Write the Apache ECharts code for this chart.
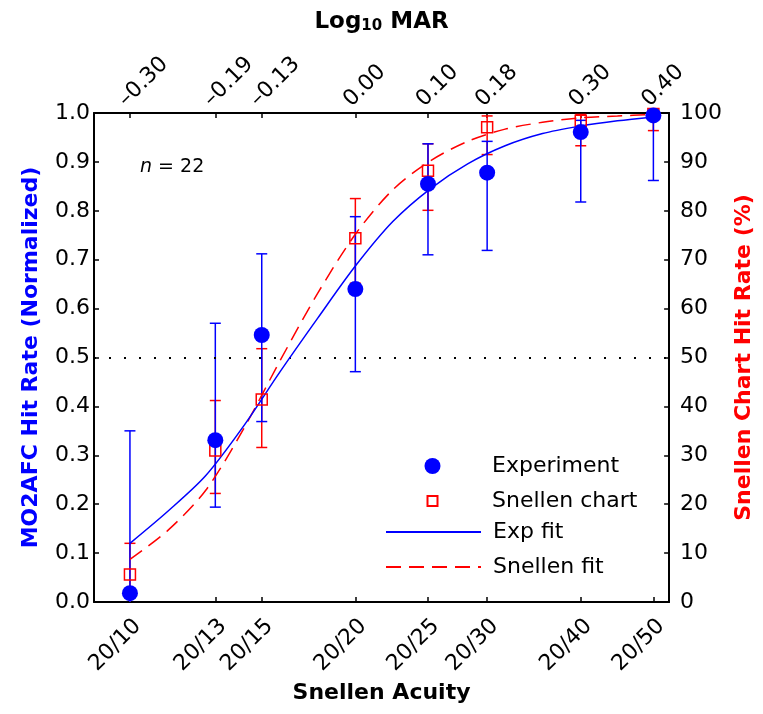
<!DOCTYPE html>
<html>
<head>
<meta charset="utf-8">
<script src="https://cdn.jsdelivr.net/npm/echarts@6/dist/echarts.min.js"></script>
<style>
html,body{margin:0;padding:0;background:#fff;}
#chart{width:763px;height:714px;}
</style>
</head>
<body>
<div id="chart"></div>
<script>
// ---- data ----
const snellenLabels = ['20/10','20/13','20/15','20/20','20/25','20/30','20/40','20/50'];
const logMarLabels  = ['\u20130.30','\u20130.19','\u20130.13','0.00','0.10','0.18','0.30','0.40'];
const xPos          = [-0.301,-0.187,-0.125,0,0.097,0.176,0.301,0.398];

const expHit   = [0.018, 0.331, 0.546, 0.640, 0.855, 0.878, 0.961, 0.995];
const expLow   = [-0.31, 0.194, 0.369, 0.471, 0.710, 0.719, 0.818, 0.862];
const expHigh  = [0.350, 0.570, 0.712, 0.788, 0.937, 0.942, 0.985, 1.000];

const snHit    = [0.056, 0.310, 0.414, 0.744, 0.882, 0.971, 0.984, 0.998];
const snLow    = [-0.01, 0.222, 0.316, 0.652, 0.801, 0.915, 0.933, 0.964];
const snHigh   = [0.120, 0.412, 0.518, 0.825, 0.937, 0.994, 0.997, 1.000];

const fitX     = [-0.301,-0.25,-0.20,-0.15,-0.10,-0.05,0.00,0.05,0.10,0.15,0.20,0.25,0.30,0.35,0.398];
const expFitY  = [0.120, 0.186, 0.258, 0.358, 0.472, 0.581, 0.687, 0.778, 0.845, 0.896, 0.933, 0.958, 0.973, 0.984, 0.992];
const snFitY   = [0.087, 0.147, 0.228, 0.352, 0.495, 0.632, 0.752, 0.843, 0.902, 0.942, 0.967, 0.981, 0.990, 0.994, 0.997];

const chanceLevel = 0.5;
const nText = '{i|n} = 22';

// ---- style ----
const FONT = 'DejaVu Sans';
const BLUE = '#0000ff';
const RED = '#ff0000';
const XMIN = -0.349, XMAX = 0.419;

function errRenderer(color) {
  return function (params, api) {
    const x = api.value(0);
    const pLo = api.coord([x, api.value(1)]);
    const pHi = api.coord([x, api.value(2)]);
    const hw = 5.5;
    const st = { stroke: color, lineWidth: 1.5 };
    return {
      type: 'group',
      children: [
        { type: 'line', shape: { x1: pLo[0], y1: pLo[1], x2: pHi[0], y2: pHi[1] }, style: st },
        { type: 'line', shape: { x1: pLo[0]-hw, y1: pLo[1], x2: pLo[0]+hw, y2: pLo[1] }, style: st },
        { type: 'line', shape: { x1: pHi[0]-hw, y1: pHi[1], x2: pHi[0]+hw, y2: pHi[1] }, style: st }
      ]
    };
  };
}

const axisLineStyle = { lineStyle: { color: '#000', width: 2 } };
const tickStyle = { inside: true, length: 5, lineStyle: { color: '#000', width: 1.5 } };
const legendText = { fontFamily: FONT, fontSize: 22, color: '#000', padding: [0, 0, 0, 7] };

const chart = echarts.init(document.getElementById('chart'), null, { renderer: 'canvas' });

chart.setOption({
  animation: false,
  backgroundColor: '#fff',
  textStyle: { fontFamily: FONT },
  grid: { left: 94, right: 85, top: 112, bottom: 112, containLabel: false },
  xAxis: [
    {
      type: 'value', position: 'bottom', min: XMIN, max: XMAX,
      axisLine: { show: true, onZero: false, ...axisLineStyle },
      axisTick: { ...tickStyle, customValues: xPos },
      splitLine: { show: false },
      axisLabel: {
        customValues: xPos, rotate: 45, margin: 13,
        verticalAlign: 'top',
        fontFamily: FONT, fontSize: 22, color: '#000',
        formatter: v => snellenLabels[xPos.indexOf(v)]
      },
      name: 'Snellen Acuity', nameLocation: 'middle', nameGap: 76,
      nameTextStyle: { fontFamily: FONT, fontSize: 22, fontWeight: 'bold', color: '#000' }
    },
    {
      type: 'value', position: 'top', min: XMIN, max: XMAX,
      axisLine: { show: true, onZero: false, ...axisLineStyle },
      axisTick: { ...tickStyle, customValues: xPos },
      splitLine: { show: false },
      axisLabel: {
        customValues: xPos, rotate: -45, margin: 2,
        verticalAlign: 'bottom',
        fontFamily: FONT, fontSize: 22, color: '#000',
        formatter: v => logMarLabels[xPos.indexOf(v)]
      },
      name: '{a|Log}{b|10}{a| MAR}', nameLocation: 'middle', nameGap: 79,
      nameTextStyle: {
        rich: {
          a: { fontFamily: FONT, fontSize: 23, fontWeight: 'bold', color: '#000', verticalAlign: 'top', lineHeight: 23 },
          b: { fontFamily: FONT, fontSize: 15, fontWeight: 'bold', color: '#000', verticalAlign: 'bottom', lineHeight: 15, padding: [14, 0, 0, 0] }
        }
      }
    }
  ],
  yAxis: [
    {
      type: 'value', position: 'left', min: 0, max: 1, interval: 0.1,
      axisLine: { show: true, onZero: false, ...axisLineStyle },
      axisTick: tickStyle,
      splitLine: { show: false },
      axisLabel: { margin: 4, fontFamily: FONT, fontSize: 22, color: '#000', formatter: v => v.toFixed(1) },
      name: 'MO2AFC Hit Rate (Normalized)', nameLocation: 'middle', nameRotate: 90, nameGap: 52,
      nameTextStyle: { fontFamily: FONT, fontSize: 22, fontWeight: 'bold', color: BLUE }
    },
    {
      type: 'value', position: 'right', min: 0, max: 100, interval: 10,
      axisLine: { show: true, onZero: false, ...axisLineStyle },
      axisTick: tickStyle,
      splitLine: { show: false },
      axisLabel: { margin: 11, fontFamily: FONT, fontSize: 22, color: '#000' },
      name: 'Snellen Chart Hit Rate (%)', nameLocation: 'middle', nameRotate: 90, nameGap: 57,
      nameTextStyle: { fontFamily: FONT, fontSize: 22, fontWeight: 'bold', color: RED }
    }
  ],
  legend: [
    {
      data: ['Experiment'], orient: 'vertical', left: 380, top: 450,
      itemWidth: 95, itemHeight: 20, itemGap: 10,
      lineStyle: { opacity: 0 },
      textStyle: legendText
    },
    {
      data: ['Snellen chart'], orient: 'vertical', left: 380, top: 485,
      itemWidth: 95, itemHeight: 12.5, itemGap: 10,
      lineStyle: { opacity: 0 },
      textStyle: legendText
    },
    {
      data: ['Exp fit', 'Snellen fit'], orient: 'vertical', left: 380, top: 516,
      itemWidth: 95, itemHeight: 14, itemGap: 13,
      itemStyle: { opacity: 0 },
      textStyle: legendText
    }
  ],
  graphic: [
    {
      type: 'text', left: 140, top: 158, z: 10,
      style: {
        text: nText, fill: '#000', font: '19px "DejaVu Sans"',
        rich: { i: { fontStyle: 'italic', fontFamily: FONT, fontSize: 19 } }
      }
    }
  ],
  series: [
    {
      name: 'Snellen err', type: 'custom', xAxisIndex: 0, yAxisIndex: 0, clip: true, z: 2,
      renderItem: errRenderer(RED),
      encode: { x: 0, y: [1, 2] },
      data: xPos.map((x, i) => [x, snLow[i], snHigh[i]])
    },
    {
      name: 'Exp err', type: 'custom', xAxisIndex: 0, yAxisIndex: 0, clip: true, z: 3,
      renderItem: errRenderer(BLUE),
      encode: { x: 0, y: [1, 2] },
      data: xPos.map((x, i) => [x, expLow[i], expHigh[i]])
    },
    {
      name: 'Snellen fit', type: 'line', xAxisIndex: 0, yAxisIndex: 0, z: 4,
      symbol: 'none', smooth: 0.3,
      lineStyle: { color: RED, width: 1.5, type: [15, 8] },
      itemStyle: { color: RED },
      data: fitX.map((x, i) => [x, snFitY[i]]),
      markLine: {
        silent: true, symbol: 'none', label: { show: false },
        lineStyle: { color: '#000', width: 2, type: [2, 13] },
        data: [{ yAxis: chanceLevel }]
      }
    },
    {
      name: 'Exp fit', type: 'line', xAxisIndex: 0, yAxisIndex: 0, z: 5,
      symbol: 'none', smooth: 0.3,
      lineStyle: { color: BLUE, width: 1.5 },
      itemStyle: { color: BLUE },
      data: fitX.map((x, i) => [x, expFitY[i]])
    },
    {
      name: 'Snellen chart', type: 'line', xAxisIndex: 0, yAxisIndex: 0, z: 6, clip: false,
      symbol: 'rect', symbolSize: 11, showSymbol: true,
      lineStyle: { opacity: 0, width: 0 },
      itemStyle: { color: 'rgba(255,255,255,0)', borderColor: RED, borderWidth: 1.5 },
      data: xPos.map((x, i) => [x, snHit[i]])
    },
    {
      name: 'Experiment', type: 'line', xAxisIndex: 0, yAxisIndex: 0, z: 7, clip: false,
      symbol: 'circle', symbolSize: 16, showSymbol: true,
      lineStyle: { opacity: 0, width: 0 },
      itemStyle: { color: BLUE, borderWidth: 0 },
      data: xPos.map((x, i) => [x, expHit[i]])
    }
  ]
});
</script>
</body>
</html>
